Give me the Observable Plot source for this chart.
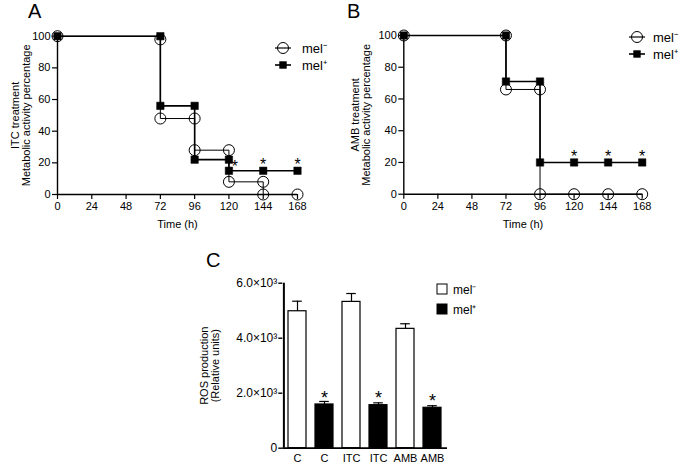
<!DOCTYPE html>
<html><head><meta charset="utf-8">
<script src="https://cdn.jsdelivr.net/npm/d3@7"></script>
<script src="https://cdn.jsdelivr.net/npm/@observablehq/plot@0.6"></script>
<style>
body{margin:0;background:#fff;}
#root{position:relative;width:680px;height:464px;font-family:"Liberation Sans",Arial,sans-serif;overflow:hidden;}
#root svg{position:absolute;overflow:visible;}
</style></head><body><div id="root"></div>
<script>
// ---------- data ----------
const hourTicks = [0, 24, 48, 72, 96, 120, 144, 168];
const pctTicks = [0, 20, 40, 60, 80, 100];

// Panel A: ITC treatment
const itcNegHours = [0, 72, 72, 96, 96, 120, 120, 144, 144, 168];
const itcNegPct   = [100, 98, 48, 48, 28, 28, 8, 8, 0, 0];
const itcPosHours = [0, 72, 72, 96, 96, 120, 120, 144, 168];
const itcPosPct   = [100, 100, 56, 56, 22, 22, 15, 15, 15];
const itcStarHours = [120, 144, 168];
const itcStarPct   = [20, 21, 21];
const itcStarShift = [6, 0, 0];

// Panel B: AMB treatment
const ambNegHours = [0, 72, 72, 96, 96, 120, 144, 168];
const ambNegPct   = [100, 100, 66, 66, 0, 0, 0, 0];
const ambPosHours = [0, 72, 72, 96, 96, 120, 144, 168];
const ambPosPct   = [100, 100, 71, 71, 20, 20, 20, 20];
const ambStarHours = [120, 144, 168];
const ambStarPct   = [26, 26, 26];
const ambStarShift = [0, 0, 0];

// Panel C: ROS production
const rosLabels = ["C", "C", "ITC", "ITC", "AMB", "AMB"];
const rosGroup  = ["mel-", "mel+", "mel-", "mel+", "mel-", "mel+"];
const rosMean   = [4980, 1590, 5320, 1565, 4340, 1470];
const rosSem    = [365, 110, 305, 85, 185, 75];
const rosTicks  = [0, 2000, 4000, 6000];
const rosTickLabels = ["0", "2.0×10³", "4.0×10³", "6.0×10³"];
const rosStarIdx = [1, 3, 5];
const rosStarVal = [1980, 1980, 1880];

const FONT = "Liberation Sans, Arial, sans-serif";
const root = document.getElementById("root");

function place(el, left, top) {
  el.style.left = left + "px";
  el.style.top = top + "px";
  root.appendChild(el);
}

function survival(o) {
  const neg = o.negH.map((h, i) => ({h, p: o.negP[i]}));
  const pos = o.posH.map((h, i) => ({h, p: o.posP[i]}));
  const starMarks = o.starH.map((h, i) =>
    Plot.text([h], {x: d => d, y: () => o.starP[i], text: () => "*", dx: o.starShift[i], dy: 4,
      fontSize: 16, fill: "#000"}));
  return Plot.plot({
    width: 340, height: 245,
    marginLeft: o.ml, marginRight: o.mr, marginTop: o.mt, marginBottom: o.mb,
    x: {domain: [0, 168]},
    y: {domain: [0, 100]},
    style: {fontFamily: FONT, fontSize: "11px", color: "#000", background: "transparent"},
    marks: [
      Plot.axisX({ticks: hourTicks, tickSize: 5, tickPadding: 3, label: null, strokeWidth: 1.2}),
      Plot.axisY({ticks: pctTicks, tickSize: 5, tickPadding: 2, label: null, strokeWidth: 1.2}),
      Plot.ruleY([0], {stroke: "#000", strokeWidth: 1.4}),
      Plot.ruleX([0], {stroke: "#000", strokeWidth: 1.4}),
      Plot.text(["Time (h)"], {frameAnchor: "bottom", lineAnchor: "middle", textAnchor: "middle", dy: o.timeDy, fontSize: 11, fill: "#000"}),
      Plot.text([o.title], {frameAnchor: "left", textAnchor: "middle", lineAnchor: "middle", rotate: -90, dx: o.titleDx, lineHeight: 1.0, fontSize: 11, fill: "#000"}),
      Plot.line(neg, {x: "h", y: "p", curve: "step-after", stroke: "#000", strokeWidth: 1}),
      Plot.line(pos, {x: "h", y: "p", curve: "step-after", stroke: "#000", strokeWidth: 1.6}),
      Plot.dot(pos, {x: "h", y: "p", symbol: "square", r: 4.2, fill: "#000", stroke: "#000", strokeWidth: 0.5}),
      Plot.dot(neg, {x: "h", y: "p", symbol: "circle", r: 5.5, fill: "none", stroke: "#000", strokeWidth: 1}),
      ...starMarks
    ]
  });
}

const pA = survival({
  negH: itcNegHours, negP: itcNegPct, posH: itcPosHours, posP: itcPosPct,
  starH: itcStarHours, starP: itcStarPct, starShift: itcStarShift,
  title: "ITC treatment\nMetabolic activity percentage",
  ml: 57, mr: 43, mt: 35.7, mb: 51, titleDx: -36.5, timeDy: 30
});
place(pA, 0, 0);

const pB = survival({
  negH: ambNegHours, negP: ambNegPct, posH: ambPosHours, posP: ambPosPct,
  starH: ambStarHours, starP: ambStarPct, starShift: ambStarShift,
  title: "AMB treatment\nMetabolic activity percentage",
  ml: 63.3, mr: 38.3, mt: 35, mb: 51.3, titleDx: -42.8, timeDy: 30.3
});
place(pB, 340, 0);

// Panel C
const cW = 680, cML = 282.3, cMR = 233;
const bandProbe = d3.scaleBand().domain(d3.range(rosLabels.length)).range([cML, cW - cMR]).paddingInner(0.33).paddingOuter(0.16);
const axisShift = cML - (bandProbe(0) + bandProbe.bandwidth() / 2);
const ros = rosMean.map((m, i) => ({i, m, s: rosSem[i], g: rosGroup[i]}));
const stars = rosStarIdx.map((i, k) => ({i, v: rosStarVal[k]}));
const pC = Plot.plot({
  width: cW, height: 244,
  marginLeft: cML, marginRight: cMR, marginTop: 62.7, marginBottom: 16.3,
  x: {type: "band", domain: d3.range(rosLabels.length), paddingInner: 0.33, paddingOuter: 0.16},
  y: {domain: [0, 6000]},
  color: {domain: ["mel-", "mel+"], range: ["#fff", "#000"]},
  style: {fontFamily: FONT, fontSize: "11px", color: "#000", background: "transparent"},
  marks: [
    Plot.barY(ros, {x: "i", y: "m", fill: "g", stroke: "#000", strokeWidth: 1.2}),
    Plot.ruleX(ros, {x: "i", y1: "m", y2: d => d.m + d.s, stroke: "#000", strokeWidth: 1.2}),
    Plot.tickY(ros, {x: "i", y: d => d.m + d.s, stroke: "#000", strokeWidth: 1.2, insetLeft: 4.2, insetRight: 4.2}),
    Plot.text(stars, {x: "i", y: "v", text: () => "*", fontSize: 18, dy: 4.6, fill: "#000"}),
    Plot.axisX({tickSize: 0, tickPadding: 6, tickFormat: i => rosLabels[i], label: null}),
    Plot.axisY({ticks: rosTicks, tickSize: 4, tickPadding: 1.5, fontSize: 12, tickFormat: v => rosTickLabels[rosTicks.indexOf(v)], label: null, strokeWidth: 1.4}),
    Plot.ruleY([0], {stroke: "#000", strokeWidth: 1.8}),
    Plot.ruleX([0], {x: () => 0, dx: axisShift, stroke: "#000", strokeWidth: 2}),
    Plot.text(["ROS production\n(Relative units)"], {frameAnchor: "left", textAnchor: "middle", lineAnchor: "middle", rotate: -90, dx: -73, lineHeight: 1.0, fontSize: 11, fill: "#000"})
  ]
});
place(pC, 0, 220);

// Overlay: panel letters and legends
const ov = d3.select(root).append("svg")
  .attr("width", 680).attr("height", 464)
  .style("left", "0px").style("top", "0px")
  .style("font-family", FONT);

ov.append("text").attr("x", 28).attr("y", 18).attr("font-size", 20).text("A");
ov.append("text").attr("x", 347).attr("y", 18).attr("font-size", 20).text("B");
ov.append("text").attr("x", 206).attr("y", 267).attr("font-size", 20).text("C");

function lineLegend(x, y, tx) {
  const g1 = ov.append("g");
  g1.append("line").attr("x1", x - 8).attr("x2", x + 8).attr("y1", y).attr("y2", y).attr("stroke", "#000").attr("stroke-width", 1.2);
  g1.append("circle").attr("cx", x).attr("cy", y).attr("r", 5.5).attr("fill", "none").attr("stroke", "#000");
  g1.append("text").attr("x", tx).attr("y", y + 4.5).attr("font-size", 13).text("mel⁻");
  const y2 = y + 17;
  g1.append("line").attr("x1", x - 8).attr("x2", x + 8).attr("y1", y2).attr("y2", y2).attr("stroke", "#000").attr("stroke-width", 1.6);
  g1.append("rect").attr("x", x - 3.7).attr("y", y2 - 3.7).attr("width", 7.4).attr("height", 7.4).attr("fill", "#000");
  g1.append("text").attr("x", tx).attr("y", y2 + 4.5).attr("font-size", 13).text("mel⁺");
}
lineLegend(283, 48, 302);
lineLegend(637, 37, 653);

ov.append("rect").attr("x", 437).attr("y", 284).attr("width", 10).attr("height", 10).attr("fill", "#fff").attr("stroke", "#000");
ov.append("text").attr("x", 453).attr("y", 293.5).attr("font-size", 12).text("mel⁻");
ov.append("rect").attr("x", 437).attr("y", 304).attr("width", 10).attr("height", 10).attr("fill", "#000").attr("stroke", "#000");
ov.append("text").attr("x", 453).attr("y", 313.5).attr("font-size", 12).text("mel⁺");
</script></body></html>
